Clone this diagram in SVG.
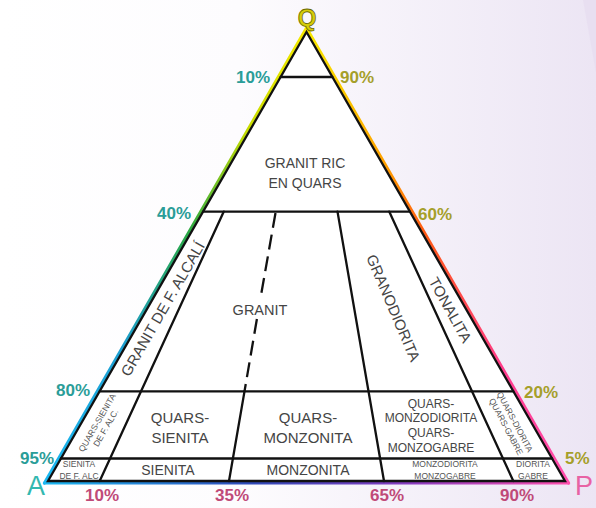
<svg xmlns="http://www.w3.org/2000/svg" width="596" height="508" viewBox="0 0 596 508">
<defs>
<linearGradient id="bg" x1="0" y1="0" x2="1" y2="0">
<stop offset="0" stop-color="#ffffff"/>
<stop offset="0.4" stop-color="#fdfcfe"/>
<stop offset="1" stop-color="#ece5f4"/>
</linearGradient>
<linearGradient id="gL" gradientUnits="userSpaceOnUse" x1="306.5" y1="28" x2="44.5" y2="483">
<stop offset="0" stop-color="#f7ea00"/>
<stop offset="0.22" stop-color="#c8dc00"/>
<stop offset="0.45" stop-color="#2aa845"/>
<stop offset="0.7" stop-color="#1e9ed0"/>
<stop offset="1" stop-color="#1ab8f2"/>
</linearGradient>
<linearGradient id="gR" gradientUnits="userSpaceOnUse" x1="306.5" y1="28" x2="568.5" y2="483">
<stop offset="0" stop-color="#f7ea00"/>
<stop offset="0.3" stop-color="#ffa000"/>
<stop offset="0.45" stop-color="#ff5a14"/>
<stop offset="0.75" stop-color="#ff3c8c"/>
<stop offset="1" stop-color="#ff4fae"/>
</linearGradient>
<linearGradient id="gB" gradientUnits="userSpaceOnUse" x1="44.5" y1="483" x2="568.5" y2="483">
<stop offset="0" stop-color="#1ab8f2"/>
<stop offset="0.4" stop-color="#3048b8"/>
<stop offset="0.7" stop-color="#8a3cc0"/>
<stop offset="1" stop-color="#ff4fae"/>
</linearGradient>
</defs>
<style>
.ln{stroke:#111;stroke-width:2.3;fill:none;stroke-linecap:round}
.dash{stroke:#111;stroke-width:2.3;fill:none;stroke-dasharray:15 7}
.t{font-family:"Liberation Sans",Arial,sans-serif;fill:#454545;text-anchor:middle}
.s{font-family:"Liberation Sans",Arial,sans-serif;fill:#555;text-anchor:middle;font-size:8.5px}
.pc{font-family:"Liberation Sans",Arial,sans-serif;font-weight:bold;font-size:17px}
.pl{fill:#2a9d98;text-anchor:end}
.pr{fill:#a59f2a;text-anchor:start}
.pb{fill:#c04a78;text-anchor:middle}
</style>
<rect width="596" height="508" fill="url(#bg)"/>
<polygon points="583,0 596,0 596,73" fill="#e8dff1"/>

<g id="triangle">
<polygon points="306.5,32 48,481 565,481" fill="#ffffff"/>
<line x1="306.5" y1="28" x2="44.5" y2="483" stroke="url(#gL)" stroke-width="3.2" stroke-linecap="round"/>
<line x1="306.5" y1="28" x2="568.5" y2="483" stroke="url(#gR)" stroke-width="3.2" stroke-linecap="round"/>
<line x1="44.5" y1="483" x2="568.5" y2="483" stroke="url(#gB)" stroke-width="3.2" stroke-linecap="round"/>
<polygon points="306.5,32 48,481 565,481" class="ln"/>
</g>

<g id="connectors">
<line class="ln" x1="280.7" y1="77" x2="332.3" y2="77"/>
<line class="ln" x1="203.1" y1="211.6" x2="409.9" y2="211.6"/>
<line class="ln" x1="99.7" y1="391.4" x2="513.3" y2="391.4"/>
<line class="ln" x1="60.9" y1="458.5" x2="552.1" y2="458.5"/>
<line class="ln" x1="223.8" y1="211.6" x2="99.7" y2="481"/>
<line class="dash" x1="275.5" y1="213" x2="260.7" y2="297"/>
<line class="dash" x1="256.9" y1="319" x2="244.5" y2="391.4"/>
<line class="ln" x1="244.5" y1="391.4" x2="229" y2="481"/>
<line class="ln" x1="337.5" y1="211.6" x2="384" y2="481"/>
<line class="ln" x1="389.2" y1="211.6" x2="513.3" y2="481"/>
</g>

<g id="vertex-labels">
<text x="307" y="26" font-family="Liberation Sans,Arial,sans-serif" font-weight="bold" font-size="24" fill="#d6cd0a" stroke="#6b6a00" stroke-width="0.8" text-anchor="middle">Q</text>
<text x="36" y="495" font-family="Liberation Sans,Arial,sans-serif" font-size="27" fill="#33b8b0" text-anchor="middle">A</text>
<text x="575" y="495" font-family="Liberation Sans,Arial,sans-serif" font-size="27" fill="#e862a4">P</text>
</g>

<g id="percent-labels">
<text class="pc pl" x="270" y="83">10%</text>
<text class="pc pl" x="191" y="219">40%</text>
<text class="pc pl" x="90" y="396">80%</text>
<text class="pc pl" x="54" y="464">95%</text>
<text class="pc pr" x="340" y="83">90%</text>
<text class="pc pr" x="418" y="220">60%</text>
<text class="pc pr" x="524" y="398">20%</text>
<text class="pc pr" x="565" y="464">5%</text>
<text class="pc pb" x="102" y="501">10%</text>
<text class="pc pb" x="232" y="501">35%</text>
<text class="pc pb" x="387" y="501">65%</text>
<text class="pc pb" x="517" y="501">90%</text>
</g>

<g id="granit-ric-en-quars">
<text class="t" font-size="14" x="305" y="168">GRANIT RIC</text>
<text class="t" font-size="14" x="305" y="188">EN QUARS</text>
</g>
<g id="granit-falcali">
<text class="t" font-size="15" transform="translate(163,309) rotate(-60.07)" x="0" y="5">GRANIT DE F. ALCALÍ</text>
</g>
<g id="granit">
<text class="t" font-size="14.5" x="260" y="315">GRANIT</text>
</g>
<g id="granodiorita">
<text class="t" font-size="15" transform="translate(393,308) rotate(67)" x="0" y="5">GRANODIORITA</text>
</g>
<g id="tonalita">
<text class="t" font-size="15" transform="translate(450,310) rotate(61)" x="0" y="5">TONALITA</text>
</g>
<g id="quars-sienita-falc">
<g transform="translate(101,425) rotate(-60)">
<text class="s" x="0" y="-1.5">QUARS-SIENITA</text>
<text class="s" x="0" y="8.5">DE F. ALC.</text>
</g>
</g>
<g id="quars-sienita">
<text class="t" font-size="15" x="180" y="423">QUARS-</text>
<text class="t" font-size="15" x="180" y="443">SIENITA</text>
</g>
<g id="quars-monzonita">
<text class="t" font-size="15" x="308" y="423">QUARS-</text>
<text class="t" font-size="15" x="308" y="443">MONZONITA</text>
</g>
<g id="quars-monzodiorita">
<text class="t" font-size="12" x="431" y="408">QUARS-</text>
<text class="t" font-size="12" x="431" y="422">MONZODIORITA</text>
<text class="t" font-size="12" x="431" y="437">QUARS-</text>
<text class="t" font-size="12" x="431" y="452">MONZOGABRE</text>
</g>
<g id="quars-diorita">
<g transform="translate(511,424) rotate(62)">
<text class="s" x="0" y="-1.5">QUARS-DIORITA</text>
<text class="s" x="0" y="8.5">QUARS-GABRE</text>
</g>
</g>
<g id="sienita-falc">
<text class="s" x="79" y="467">SIENITA</text>
<text class="s" x="79" y="479">DE F. ALC</text>
</g>
<g id="sienita">
<text class="t" font-size="14" x="168" y="475">SIENITA</text>
</g>
<g id="monzonita">
<text class="t" font-size="14" x="308" y="475">MONZONITA</text>
</g>
<g id="monzodiorita">
<text class="s" x="445" y="467">MONZODIORITA</text>
<text class="s" x="445" y="479">MONZOGABRE</text>
</g>
<g id="diorita">
<text class="s" x="533" y="467">DIORITA</text>
<text class="s" x="533" y="479">GABRE</text>
</g>
</svg>
